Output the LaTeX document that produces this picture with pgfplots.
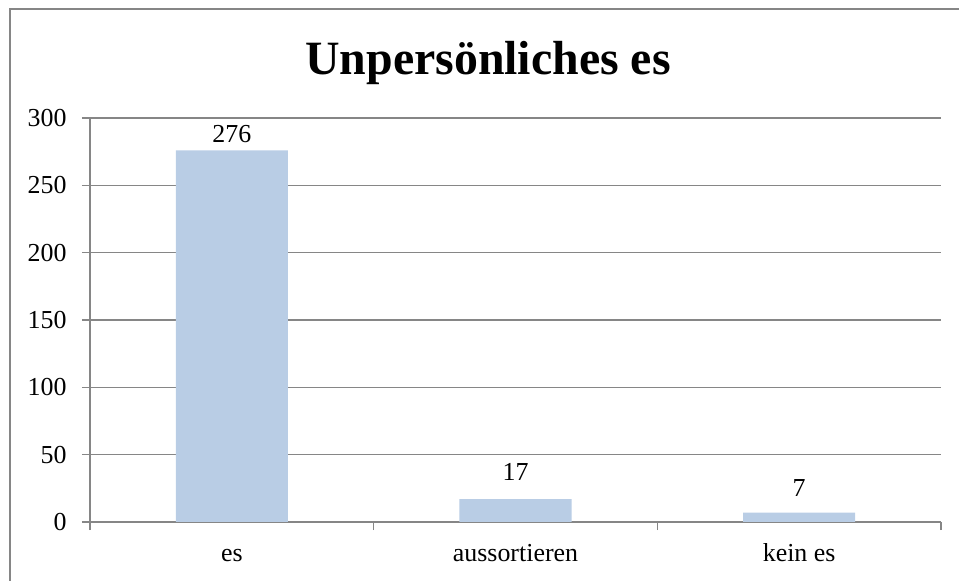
\documentclass[border=0pt]{standalone}
\usepackage{pgfplots}
\pgfplotsset{compat=1.18}
\usepackage{fontspec}
\setmainfont{Liberation Serif}
\definecolor{barblue}{HTML}{B9CDE5}
\definecolor{gridgray}{HTML}{868686}
\pgfplotstableread{
x y dy
0 276 4
1 17 15
2 7 12.6
}\datatab
\begin{document}
\begin{tikzpicture}
\useasboundingbox (0bp,0bp) rectangle (959bp,581bp);
\draw[gridgray, line width=1.3bp] (10bp,0bp) -- (10bp,572bp) -- (959bp,572bp);
\node[font=\fontsize{48}{56}\selectfont\bfseries, anchor=base, inner sep=0pt] at (488bp,506bp) {Unpersönliches es};
\begin{axis}[
  at={(90bp,59bp)}, anchor=south west,
  scale only axis, width=851bp, height=404bp,
  xmin=-0.5, xmax=2.5, ymin=0, ymax=300,
  axis x line*=bottom, axis y line*=left,
  axis line style={gridgray, line width=1.1bp},
  every tick/.style={gridgray, line width=1.1bp},
  tick align=outside,
  /pgf/number format/assume math mode=true,
  ytick={0,50,100,150,200,250,300},
  major tick length=8bp,
  xtick={-0.5,0.5,1.5,2.5},
  xticklabels={es,aussortieren,kein es,{}},
  ymajorgrids,
  major grid style={gridgray, line width=1.1bp},
  tick label style={font=\fontsize{26}{30}\selectfont},
  yticklabel style={xshift=-12bp},
  xticklabel style={anchor=base, xshift=141.83bp, yshift=-31bp},
  nodes near coords,
  visualization depends on={\thisrow{dy} \as \dy},
  every node near coord/.style={font=\fontsize{26}{30}\selectfont, anchor=south, yshift=\dy bp},
  point meta=explicit,
  clip=false,
]
\addplot[ybar, bar width=0.395, fill=barblue, draw=none] table[x=x, y=y, meta=y] {\datatab};
\end{axis}
\end{tikzpicture}
\end{document}
